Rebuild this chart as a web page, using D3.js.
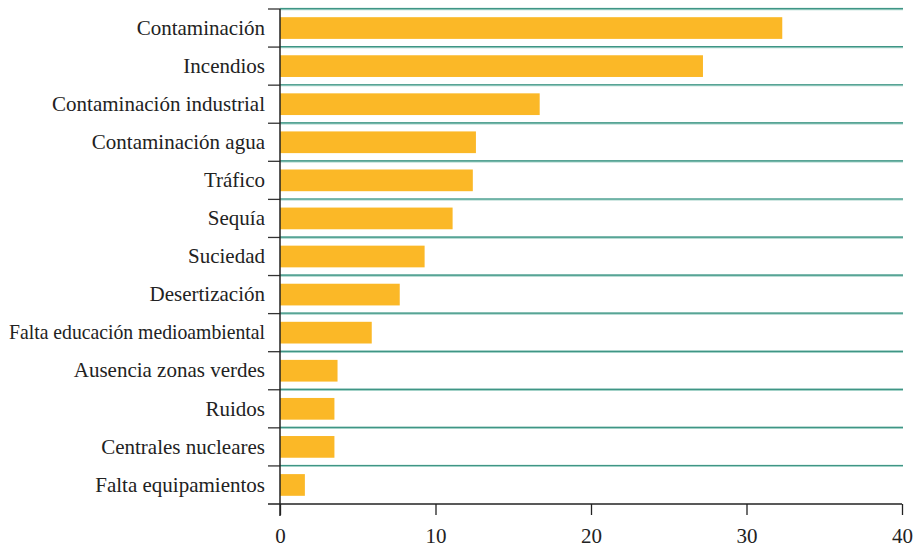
<!DOCTYPE html>
<html>
<head>
<meta charset="utf-8">
<script src="https://cdn.jsdelivr.net/npm/d3@7"></script>
<style>
  html, body { margin: 0; padding: 0; background: #fff; }
  svg { display: block; }
</style>
</head>
<body>
<svg id="chart" width="918" height="546"></svg>
<script>
// Problemas medioambientales citados (%)
const categories = [
  "Contaminación",
  "Incendios",
  "Contaminación industrial",
  "Contaminación agua",
  "Tráfico",
  "Sequía",
  "Suciedad",
  "Desertización",
  "Falta educación medioambiental",
  "Ausencia zonas verdes",
  "Ruidos",
  "Centrales nucleares",
  "Falta equipamientos"
];
const values = [32.3, 27.2, 16.7, 12.6, 12.4, 11.1, 9.3, 7.7, 5.9, 3.7, 3.5, 3.5, 1.6];
const xTicks = [0, 10, 20, 30, 40];

const serif = "Liberation Serif";
const svg = d3.select("#chart");
const plotLeft = 280, plotRight = 902, plotTop = 9, plotBottom = 504;
const labelRoom = 256; // widest label is squeezed to fit left of the axis

const x = d3.scaleLinear().domain([0, 40]).range([plotLeft, plotRight]);
const y = d3.scaleBand()
  .domain(categories)
  .range([plotTop, plotBottom])
  .paddingInner(0.43)
  .paddingOuter(0.215);

const step = y.step();
const halfGap = step * y.paddingInner() / 2;
const boundaries = categories.map(c => y(c) - halfGap);

// Teal separators between rows
svg.append("g")
  .selectAll("line")
  .data(boundaries)
  .join("line")
  .attr("x1", plotLeft).attr("x2", plotRight + 1)
  .attr("y1", d => d).attr("y2", d => d)
  .attr("stroke", "#a3d2c8")
  .attr("stroke-width", 2.4);
svg.append("g")
  .selectAll("line")
  .data(boundaries)
  .join("line")
  .attr("x1", plotLeft).attr("x2", plotRight + 1)
  .attr("y1", d => d - 0.4).attr("y2", d => d - 0.4)
  .attr("stroke", "#3f9585")
  .attr("stroke-width", 1.2);

// Bars
svg.append("g")
  .selectAll("rect")
  .data(values)
  .join("rect")
  .attr("x", x(0))
  .attr("y", (d, i) => y(categories[i]))
  .attr("width", d => x(d) - x(0))
  .attr("height", y.bandwidth())
  .attr("fill", "#fbb827");

// Row tick marks on the left of the vertical axis
svg.append("g")
  .selectAll("line")
  .data(boundaries)
  .join("line")
  .attr("x1", plotLeft - 12).attr("x2", plotLeft)
  .attr("y1", d => d).attr("y2", d => d)
  .attr("stroke", "#333")
  .attr("stroke-width", 1.3);

// Category labels
const yAxis = svg.append("g")
  .attr("transform", `translate(${plotLeft},0)`)
  .call(d3.axisLeft(y).tickSize(0).tickPadding(15));
yAxis.attr("font-family", serif).attr("font-size", 21);
yAxis.select(".domain").remove();
yAxis.selectAll("text")
  .attr("fill", "#222")
  .attr("dy", "0.32em")
  .each(function () {
    const w = this.getComputedTextLength();
    if (w > labelRoom) {
      d3.select(this).attr("textLength", labelRoom).attr("lengthAdjust", "spacingAndGlyphs");
    }
  });

// Vertical axis line
svg.append("line")
  .attr("x1", plotLeft).attr("x2", plotLeft)
  .attr("y1", plotTop).attr("y2", plotBottom + 12)
  .attr("stroke", "#222")
  .attr("stroke-width", 1.5);

// Bottom axis
const xAxis = svg.append("g")
  .attr("transform", `translate(0,${plotBottom})`)
  .call(d3.axisBottom(x).tickValues(xTicks).tickSize(11).tickPadding(13).tickSizeOuter(0));
xAxis.attr("font-family", serif).attr("font-size", 21);
xAxis.select(".domain")
  .attr("d", `M${plotLeft - 12},0H${plotRight}`)
  .attr("stroke", "#222")
  .attr("stroke-width", 1.5);
xAxis.selectAll(".tick line").attr("stroke", "#222").attr("stroke-width", 1.3);
xAxis.selectAll("text").attr("fill", "#222");
</script>
</body>
</html>
